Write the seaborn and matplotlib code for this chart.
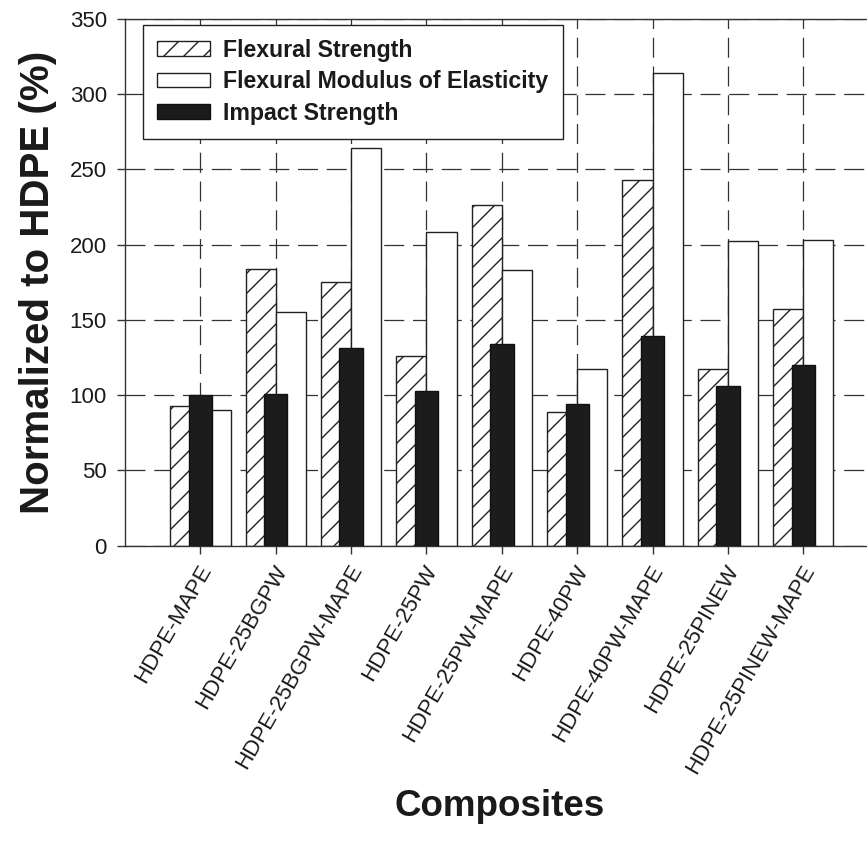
import matplotlib
matplotlib.use("Agg")
import matplotlib.pyplot as plt
import matplotlib.hatch as mhatch
from matplotlib.patches import Patch
from matplotlib.transforms import ScaledTranslation
import pandas as pd
import seaborn as sns

# Composite formulations along the x axis
composites = [
    "HDPE-MAPE", "HDPE-25BGPW", "HDPE-25BGPW-MAPE", "HDPE-25PW",
    "HDPE-25PW-MAPE", "HDPE-40PW", "HDPE-40PW-MAPE", "HDPE-25PINEW",
    "HDPE-25PINEW-MAPE",
]
# Properties normalized to neat HDPE (%)
flexural_strength = [93, 184, 175, 126, 226, 89, 243, 117, 157]
flexural_modulus = [90, 155, 264, 208, 183, 117, 314, 202, 203]
impact_strength = [100, 101, 131, 103, 134, 94, 139, 106, 120]

series_names = ["Flexural Strength", "Flexural Modulus of Elasticity", "Impact Strength"]
y_ticks = [0, 50, 100, 150, 200, 250, 300, 350]


class _DiagonalHatch(mhatch.NorthEastHatch):
    """'/' hatch with a finer, fixed line spacing."""

    def __init__(self, hatch, density):
        super().__init__(hatch, density)
        self.num_lines = int(hatch.count("/") * 10)
        self.num_vertices = (self.num_lines + 1) * 2 if self.num_lines else 0


mhatch._hatch_types[mhatch._hatch_types.index(mhatch.NorthEastHatch)] = _DiagonalHatch

sns.set_style("white")
plt.rcParams["font.family"] = ["Liberation Sans", "DejaVu Sans"]
plt.rcParams["hatch.linewidth"] = 1.0

EDGE = "#222222"
DARK = "#1c1c1c"
HATCH = "/"

fig = plt.figure(figsize=(8.67, 8.55), dpi=100)
ax = fig.add_axes([0.1442, 0.3618, 0.8693, 0.6164])

# Flexural strength and modulus side by side in each group
flex = pd.DataFrame({
    "Composite": composites * 2,
    "Property": [series_names[0]] * len(composites) + [series_names[1]] * len(composites),
    "Value": flexural_strength + flexural_modulus,
})
sns.barplot(
    data=flex, x="Composite", y="Value", hue="Property",
    order=composites, hue_order=series_names[:2],
    palette=["white", "white"], saturation=1, width=0.8,
    edgecolor=EDGE, linewidth=1.0, errorbar=None, legend=False,
    ax=ax, zorder=2,
)
for bar in ax.containers[0]:
    bar.set_hatch(HATCH)

# Impact strength as a narrower dark bar centred over each group
impact = pd.DataFrame({"Composite": composites, "Value": impact_strength})
sns.barplot(
    data=impact, x="Composite", y="Value", order=composites,
    color=DARK, saturation=1, width=0.31,
    edgecolor="#111111", linewidth=1.0, errorbar=None,
    ax=ax, zorder=3,
)

ax.set_xlim(-1, 9)
ax.set_ylim(0, 350)
ax.set_yticks(y_ticks)
ax.set_xticks(range(len(composites)))

ax.set_axisbelow(True)
ax.grid(True, color="#333333", linestyle=(0, (16, 7)), linewidth=0.9)

ax.tick_params(axis="both", direction="out", length=6, width=1.0,
               color="#333333", labelsize=16, labelcolor="#1a1a1a")
ax.tick_params(axis="x", bottom=True, top=False, pad=4)
ax.tick_params(axis="y", left=True, right=False, pad=7)

ax.set_xticklabels(composites, rotation=60, ha="right", va="center",
                   rotation_mode="anchor")
shift = ScaledTranslation(4.5 / 72, -5 / 72, fig.dpi_scale_trans)
for lab in ax.get_xticklabels():
    lab.set_transform(lab.get_transform() + shift)

for side in ("left", "bottom", "top"):
    ax.spines[side].set_visible(True)
    ax.spines[side].set_color("#333333")
    ax.spines[side].set_linewidth(1.0)
ax.spines["right"].set_visible(False)

ax.set_ylabel("Normalized to HDPE (%)", fontsize=29, fontweight="bold",
              color="#1a1a1a", labelpad=9)
ax.set_xlabel("Composites", fontsize=26.5, fontweight="bold", color="#1a1a1a")
ax.xaxis.set_label_coords(0.497, -0.462)

handles = [
    Patch(facecolor="white", edgecolor=EDGE, hatch=HATCH, linewidth=1.0),
    Patch(facecolor="white", edgecolor=EDGE, linewidth=1.0),
    Patch(facecolor=DARK, edgecolor="#111111", linewidth=1.0),
]
leg = ax.legend(
    handles, series_names, loc="upper left",
    bbox_to_anchor=(143 / 867, 1 - 25 / 855), bbox_transform=fig.transFigure,
    borderaxespad=0, frameon=True, fancybox=False, framealpha=1,
    edgecolor=EDGE, prop={"weight": "bold", "size": 16.7},
    handlelength=2.3, handleheight=0.6, handletextpad=0.57,
    labelspacing=0.36, borderpad=0.6,
)
leg.get_frame().set_linewidth(1.0)
for t in leg.get_texts():
    t.set_color("#1a1a1a")

fig.savefig("out.png", dpi=100)
